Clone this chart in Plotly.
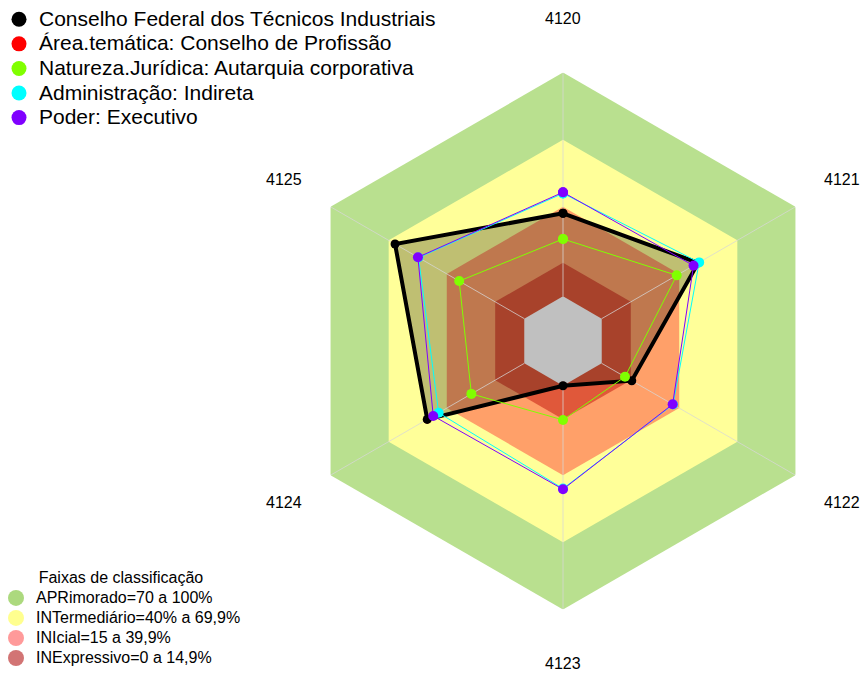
import math
import plotly.graph_objects as go

# ---------------- data ----------------
categories = ["4120", "4121", "4122", "4123", "4124", "4125"]

conselho_federal = [37.1, 49.8, 15.5, 0.0, 50.1, 66.7]
area_tematica = [37.1, 49.8, 15.5, 0.0, 50.1, 66.7]
natureza_juridica = [25.6, 38.7, 12.0, 15.3, 27.3, 33.6]
administracao = [46.0, 50.3, 36.8, 46.0, 44.2, 54.6]
poder = [46.5, 47.4, 36.6, 46.3, 47.0, 54.9]

series_names = [
    "Conselho Federal dos Técnicos Industriais",
    "Área.temática: Conselho de Profissão",
    "Natureza.Jurídica: Autarquia corporativa",
    "Administração: Indireta",
    "Poder: Executivo",
]
series_colors = ["#000000", "#ff0000", "#80ff00", "#00ffff", "#8000ff"]

band_upper = [100, 70, 40, 15]
band_names = [
    "APRimorado=70 a 100%",
    "INTermediário=40% a 69,9%",
    "INIcial=15 a 39,9%",
    "INExpressivo=0 a 14,9%",
]
band_fill = ["#b9e08f", "#ffff99", "#ffa069", "#e0583a"]
band_swatch = ["#acd97e", "#ffff8f", "#ff9a9a", "#d27474"]

center_value = 0
radial_min = -20
label_r = 124
FONT = "Liberation Sans, Arial, sans-serif"


def closed(v):
    return list(v) + [v[0]]


theta_c = closed(categories)

fig = go.Figure()

# classification bands
for up, col in zip(band_upper, band_fill):
    fig.add_trace(go.Scatterpolar(
        r=closed([up] * len(categories)), theta=theta_c, mode="lines",
        fill="toself", fillcolor=col, line=dict(width=0, color=col),
        showlegend=False, hoverinfo="skip"))

# shaded area of the main series
fig.add_trace(go.Scatterpolar(
    r=closed(conselho_federal), theta=theta_c, mode="lines",
    fill="toself", fillcolor="rgba(0,0,0,0.25)", line=dict(width=0),
    showlegend=False, hoverinfo="skip"))

# grey centre
fig.add_trace(go.Scatterpolar(
    r=closed([center_value] * len(categories)), theta=theta_c, mode="lines",
    fill="toself", fillcolor="#c0c0c0", line=dict(width=0, color="#c0c0c0"),
    showlegend=False, hoverinfo="skip"))

# spokes
sr, st = [], []
for c in categories:
    sr += [center_value, band_upper[0], None]
    st += [c, c, None]
fig.add_trace(go.Scatterpolar(
    r=sr, theta=st, mode="lines", line=dict(color="rgba(215,215,215,0.75)", width=1),
    showlegend=False, hoverinfo="skip", connectgaps=False))

# data series (drawn order: red under black)
series_values = [conselho_federal, area_tematica, natureza_juridica, administracao, poder]
draw_order = [1, 0, 2, 3, 4]
for i in draw_order:
    lw = 4 if i == 0 else 1
    ms = 9 if i == 0 else (8 if i == 1 else 10)
    fig.add_trace(go.Scatterpolar(
        r=closed(series_values[i]), theta=theta_c, mode="lines+markers",
        line=dict(color=series_colors[i], width=lw),
        marker=dict(color=series_colors[i], size=ms),
        name=series_names[i], showlegend=False))

# legend entries (series)
for name, col in zip(series_names, series_colors):
    fig.add_trace(go.Scatterpolar(
        r=[None], theta=[categories[0]], mode="markers",
        marker=dict(color=col, size=15),
        name="<span style='font-size:21px'>" + name + "</span>",
        legend="legend", showlegend=True))

# legend entries (bands)
for name, col in zip(band_names, band_swatch):
    fig.add_trace(go.Scatterpolar(
        r=[None], theta=[categories[0]], mode="markers",
        marker=dict(color=col, size=16),
        name="<span style='font-size:16px'>" + name + "</span>",
        legend="legend2", showlegend=True))

W, H = 862, 673
cx, cy, R = 563, 341, 268.4

# category labels around the chart (positions derived from the polar geometry)
annotations = []
n = len(categories)
label_px = (label_r - radial_min) / (band_upper[0] - radial_min) * R
for i, c in enumerate(categories):
    ang = math.radians(90 - 360.0 * i / n)
    ax_ = cx + label_px * math.cos(ang)
    ay_ = cy - label_px * math.sin(ang)
    annotations.append(dict(
        text=c, x=ax_ / W, y=1 - ay_ / H, xref="paper", yref="paper",
        xanchor="center", yanchor="middle", showarrow=False,
        font=dict(size=16, family=FONT, color="#000000")))

fig.update_layout(
    width=W, height=H,
    margin=dict(l=0, r=0, t=0, b=0, autoexpand=False),
    paper_bgcolor="white",
    font=dict(family=FONT, color="#000000"),
    polar=dict(
        domain=dict(x=[(cx - R) / W, (cx + R) / W],
                    y=[(H - cy - R) / H, (H - cy + R) / H]),
        bgcolor="rgba(0,0,0,0)",
        radialaxis=dict(range=[radial_min, band_upper[0]], visible=False),
        angularaxis=dict(rotation=90, direction="clockwise", visible=False,
                         categoryorder="array", categoryarray=categories),
    ),
    annotations=annotations,
    legend=dict(x=-1 / W, y=1 - 2 / H, xanchor="left", yanchor="top",
                font=dict(size=16.6, family=FONT, color="#000000"),
                bgcolor="rgba(0,0,0,0)", itemsizing="trace", tracegroupgap=0),
    legend2=dict(x=-4 / W, y=-1 / H, xanchor="left", yanchor="bottom",
                 font=dict(size=13.1, family=FONT, color="#000000"),
                 title=dict(text="<span style='font-size:16px'>Faixas de classificação</span>",
                            side="top center",
                            font=dict(size=23, family=FONT, color="#000000")),
                 bgcolor="rgba(0,0,0,0)", itemsizing="trace", tracegroupgap=0),
    showlegend=True,
)

fig.write_html(
    "out.html",
    config={"displayModeBar": False},
    post_script="document.body.style.margin='0';document.body.style.overflow='hidden';",
)
